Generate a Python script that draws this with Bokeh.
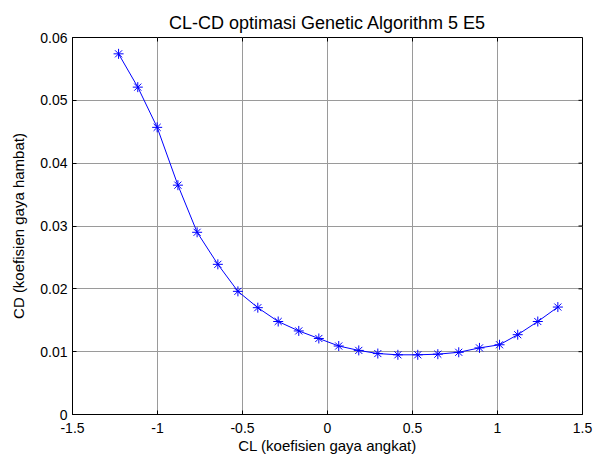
import math
from bokeh.plotting import figure
from bokeh.models import FixedTicker, Range1d
from bokeh.embed import file_html
from bokeh.resources import INLINE

# data
cl = [-1.229, -1.116, -1.002, -0.880, -0.767, -0.645, -0.527, -0.410, -0.290,
      -0.169, -0.051, 0.066, 0.184, 0.296, 0.414, 0.531, 0.649, 0.772,
      0.894, 1.012, 1.119, 1.237, 1.355]
cd = [0.0574, 0.0521, 0.0457, 0.0365, 0.0290, 0.0239, 0.0196, 0.0170, 0.0148,
      0.0133, 0.0121, 0.0109, 0.0102, 0.0097, 0.0095, 0.0095, 0.0096, 0.0099,
      0.0106, 0.0111, 0.0127, 0.0148, 0.0171]

x_ticks = [-1.5, -1, -0.5, 0, 0.5, 1, 1.5]
x_tick_labels = ["-1.5", "-1", "-0.5", "0", "0.5", "1", "1.5"]
y_ticks = [0, 0.01, 0.02, 0.03, 0.04, 0.05, 0.06]
y_tick_labels = ["0", "0.01", "0.02", "0.03", "0.04", "0.05", "0.06"]

title = "CL-CD optimasi Genetic Algorithm 5 E5"
x_label = "CL (koefisien gaya angkat)"
y_label = "CD (koefisien gaya hambat)"

FONT = "Liberation Sans"
X_MIN, X_MAX = x_ticks[0], x_ticks[-1]
Y_MIN, Y_MAX = y_ticks[0], y_ticks[-1]

p = figure(width=598, height=456, output_backend="svg", toolbar_location=None,
           x_range=Range1d(X_MIN, X_MAX), y_range=Range1d(Y_MIN, Y_MAX),
           title=title,
           min_border_left=72, min_border_right=16, min_border_top=37,
           min_border_bottom=42)

p.title.align = "center"
p.title.text_font = FONT
p.title.text_font_style = "normal"
p.title.text_font_size = "18px"
p.title.text_color = "black"

p.background_fill_color = "white"
p.border_fill_color = "white"
p.outline_line_color = "black"
p.outline_line_width = 1

for ax in (p.xaxis[0], p.yaxis[0]):
    ax.major_label_text_font = FONT
    ax.major_label_text_font_size = "14px"
    ax.major_label_text_color = "black"
    ax.axis_label_text_font = FONT
    ax.axis_label_text_font_size = "15px"
    ax.axis_label_text_font_style = "normal"
    ax.axis_label_text_color = "black"
    ax.major_tick_in = 4
    ax.major_tick_out = 0
    ax.minor_tick_in = 0
    ax.minor_tick_out = 0
    ax.axis_line_color = "black"
    ax.major_tick_line_color = "black"

p.xaxis[0].ticker = FixedTicker(ticks=x_ticks)
p.xaxis[0].major_label_overrides = dict(zip(x_ticks, x_tick_labels))
p.yaxis[0].ticker = FixedTicker(ticks=y_ticks)
p.yaxis[0].major_label_overrides = dict(zip(y_ticks, y_tick_labels))
p.xaxis[0].axis_label = x_label
p.yaxis[0].axis_label = y_label
p.xaxis[0].major_label_standoff = 8
p.yaxis[0].major_label_standoff = 5
p.xaxis[0].axis_label_standoff = 1
p.yaxis[0].axis_label_standoff = 10

p.xgrid.ticker = FixedTicker(ticks=x_ticks)
p.ygrid.ticker = FixedTicker(ticks=y_ticks)
p.grid.grid_line_color = "#9a9a9a"
p.grid.grid_line_width = 1

# inward ticks on the top and right sides of the box
p.ray(x=x_ticks, y=[Y_MAX] * len(x_ticks), length=4, length_units="screen",
      angle=-math.pi / 2, line_color="black", line_width=1)
p.ray(x=[X_MAX] * len(y_ticks), y=y_ticks, length=4, length_units="screen",
      angle=math.pi, line_color="black", line_width=1)

p.line(cl, cd, line_color="#0000ff", line_width=1)
p.scatter(cl, cd, marker="asterisk", size=10, line_color="#0000ff", line_width=1)

open("out.html", "w").write(file_html(p, INLINE))
